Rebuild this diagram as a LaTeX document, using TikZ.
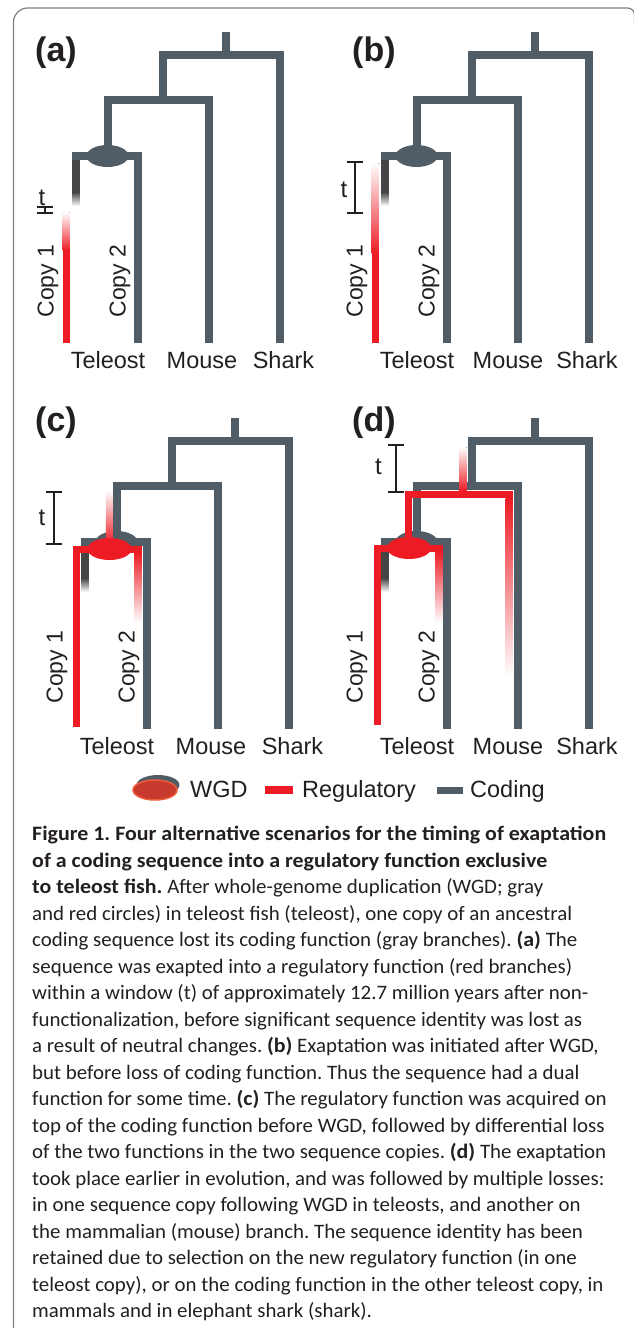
\documentclass[tikz,border=0pt]{standalone}
\usepackage{fontspec}
\setmainfont{Liberation Sans}
\newfontfamily\capfont{Carlito}[FakeStretch=1.02, BoldFeatures={FakeStretch=1.07}]
\usetikzlibrary{shapes.geometric}

\definecolor{treegray}{HTML}{505D66}
\definecolor{regred}{HTML}{ED1C24}
\definecolor{stubgray}{HTML}{454545}
\definecolor{legred}{HTML}{C93A2E}
\definecolor{legrim}{HTML}{EF5A3A}
\definecolor{framegray}{HTML}{7F7F7F}
\definecolor{captext}{HTML}{231F20}

\tikzset{
  tree/.style={line width=7.5pt, draw=treegray, line join=miter},
  regline/.style={line width=7pt, draw=regred, line join=miter},
  wgdgray/.style={ellipse, fill=treegray, minimum width=42pt, minimum height=22pt, inner sep=0pt},
  wgdred/.style={ellipse, fill=regred, minimum width=44pt, minimum height=22pt, inner sep=0pt},
  species/.style={font=\fontsize{23.5}{26}\selectfont, anchor=base, inner sep=0pt, text=captext},
  copylabel/.style={font=\fontsize{23}{26}\selectfont, rotate=90, inner sep=0pt, text=captext},
  panellabel/.style={font=\bfseries\fontsize{34}{36}\selectfont, anchor=base west, inner sep=0pt, text=captext},
  tlabel/.style={font=\fontsize{24}{26}\selectfont, inner sep=0pt, text=captext},
  bracket/.style={line width=1.3pt, draw=captext},
  legtext/.style={font=\fontsize{23.5}{26}\selectfont, anchor=base west, inner sep=0pt, text=captext},
  caption/.style={font=\capfont\fontsize{20.5}{26.5}\selectfont\frenchspacing, align=left, inner sep=0pt, text=captext},
}

% gene tree: #1 name prefix, #2/#3 shift, #4/#5 x of the Mouse and Shark labels
\newcommand\genetree[5]{%
\begin{scope}[shift={(#2,#3)}, name prefix=#1-]
  \coordinate (root) at (150,0);
  \coordinate (top) at (150,23);
  \coordinate (inner) at (87,68);
  \coordinate (wgd) at (32,124);
  \coordinate (copyL) at (0,124);
  \coordinate (copyR) at (62,124);
  \coordinate (copy2tip) at (62,311);
  \coordinate (mousetip) at (133,311);
  \coordinate (sharktip) at (204,311);
  \draw[tree] (root) -- (top);
  \draw[tree] (inner) |- (sharktip |- top) -- (sharktip);
  \draw[tree] (wgd) |- (mousetip |- inner) -- (mousetip);
  \draw[tree, shorten <=-3.75pt] (copyL) -- (copyR) -- (copy2tip);
  \node[wgdgray] (dup) at (31.5,124) {};
  % copy 1 losing its coding function
  \fill[stubgray] (-3.75,127.75) rectangle (3.75,160);
  \fill[top color=stubgray, bottom color=white] (-3.75,160) rectangle (3.75,174);
  \node[species] (teleost) at (32,336) {Teleost};
  \node[species] (mouse) at (#4,336) {Mouse};
  \node[species] (shark) at (#5,336) {Shark};
  \node[copylabel] (copy1) at (-28,249) {Copy 1};
  \node[copylabel] (copy2) at (44,249) {Copy 2};
\end{scope}}

% time window bracket: #1 x, #2 top y, #3 bottom y, #4/#5 position of the t
\newcommand\window[5]{%
  \coordinate (wtop) at (#1,#2);
  \coordinate (wbot) at (#1,#3);
  \draw[bracket] ([xshift=-8pt]wtop) -- ([xshift=8pt]wtop)
                 (wtop) -- (wbot)
                 ([xshift=-8pt]wbot) -- ([xshift=8pt]wbot);
  \node[tlabel] (tmark) at (#4,#5) {t};}

\begin{document}
\begin{tikzpicture}[x=1pt, y=-1pt]
\useasboundingbox (0,0) rectangle (633,1328);

% frame
\draw[draw=framegray, line width=1.2pt, rounded corners=14pt]
  (13.5,1340) -- (13.5,8) [rounded corners=7pt] -- (634.5,8) -- (634.5,24);

% ---------------- (a) ----------------
\node[panellabel] (la) at (35,61) {(a)};
\genetree{a}{76}{32}{126}{207.5}
\begin{scope}[shift={(76,32)}, name prefix=a-]
  \coordinate (r1a) at (-10,218);
  \coordinate (r1b) at (-10,311);
  \fill[top color=white, bottom color=regred] (-13.5,180) rectangle (-6.5,218.5);
  \draw[regline] (r1a) -- (r1b);
  \window{-31}{175}{181}{-34}{166}
\end{scope}

% ---------------- (b) ----------------
\node[panellabel] (lb) at (352,61) {(b)};
\genetree{b}{385}{32}{123}{202}
\begin{scope}[shift={(385,32)}, name prefix=b-]
  \coordinate (r1a) at (-10,221);
  \coordinate (r1b) at (-10,311);
  \fill[top color=white, bottom color=regred] (-13.5,131) rectangle (-6.5,221.5);
  \draw[regline] (r1a) -- (r1b);
  \window{-30}{130}{181}{-41}{158}
\end{scope}

% ---------------- (c) ----------------
\node[panellabel] (lc) at (35,431) {(c)};
\genetree{c}{85}{418}{126}{207.5}
\begin{scope}[shift={(85,418)}, name prefix=c-]
  \coordinate (rL) at (-9,131);
  \coordinate (rR) at (53,131);
  \coordinate (r1tip) at (-9,309);
  \fill[top color=white, bottom color=regred] (20.75,72) rectangle (27.75,126);
  \draw[regline, shorten >=-3.5pt] (r1tip) -- (rL) -- (rR);
  \fill[top color=regred, bottom color=white] (49.5,134.5) rectangle (56.5,205);
  \node[wgdred] (dupred) at (24.5,131) {};
  \window{-31}{74}{126}{-43}{100}
\end{scope}

% ---------------- (d) ----------------
\node[panellabel] (ld) at (352,431) {(d)};
\genetree{d}{385}{418}{123}{202}
\begin{scope}[shift={(385,418)}, name prefix=d-]
  \coordinate (uL) at (23,128);
  \coordinate (uR) at (124,76.5);
  \coordinate (rL) at (-8,130);
  \coordinate (rR) at (54,130);
  \coordinate (r1tip) at (-8,307);
  \fill[top color=white, bottom color=regred] (74.5,29) rectangle (81.5,73);
  \draw[regline, shorten >=-3.5pt] (uL) |- (uR);
  \fill[top color=regred, bottom color=white] (120.5,80) rectangle (127.5,259);
  \draw[regline, shorten >=-3.5pt] (r1tip) -- (rL) -- (rR);
  \fill[top color=regred, bottom color=white] (50.5,133.5) rectangle (57.5,205);
  \node[wgdred] (dupred) at (24,130) {};
  \window{11}{27}{74}{-6.5}{49}
\end{scope}

% ---------------- legend ----------------
\node[ellipse, fill=treegray, minimum width=43pt, minimum height=20pt, inner sep=0pt] (lgwgdback) at (158,785) {};
\node[ellipse, fill=legred, draw=legrim, line width=1.5pt, minimum width=44pt, minimum height=20pt, inner sep=0pt] (lgwgd) at (155,790) {};
\node[legtext] (lgwgdtext) at (190,797) {WGD};
\node[fill=regred, minimum width=28pt, minimum height=8pt, inner sep=0pt] (lgreg) at (279,790) {};
\node[legtext] (lgregtext) at (302,797) {Regulatory};
\node[fill=treegray, minimum width=26pt, minimum height=7.5pt, inner sep=0pt] (lgcod) at (450,790.5) {};
\node[legtext] (lgcodtext) at (470,797) {Coding};

% ---------------- caption ----------------
\node[caption, anchor=north west] (caption) at (32,826) {%
\textbf{Figure 1. Four alternative scenarios for the timing of exaptation}\\
\textbf{of a coding sequence into a regulatory function exclusive}\\
\textbf{to teleost fish.} After whole-genome duplication (WGD; gray\\
and red circles) in teleost fish (teleost), one copy of an ancestral\\
coding sequence lost its coding function (gray branches). \textbf{(a)} The\\
sequence was exapted into a regulatory function (red branches)\\
within a window (t) of approximately 12.7 million years after non-\\
functionalization, before significant sequence identity was lost as\\
a result of neutral changes. \textbf{(b)} Exaptation was initiated after WGD,\\
but before loss of coding function. Thus the sequence had a dual\\
function for some time. \textbf{(c)} The regulatory function was acquired on\\
top of the coding function before WGD, followed by differential loss\\
of the two functions in the two sequence copies. \textbf{(d)} The exaptation\\
took place earlier in evolution, and was followed by multiple losses:\\
in one sequence copy following WGD in teleosts, and another on\\
the mammalian (mouse) branch. The sequence identity has been\\
retained due to selection on the new regulatory function (in one\\
teleost copy), or on the coding function in the other teleost copy, in\\
mammals and in elephant shark (shark).};
\end{tikzpicture}
\end{document}
